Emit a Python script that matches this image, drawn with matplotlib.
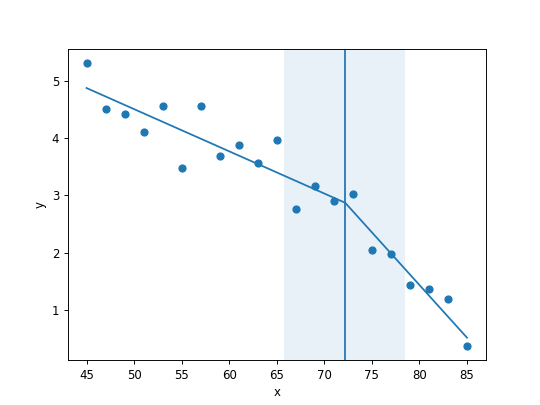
import matplotlib
matplotlib.use("Agg")
import matplotlib.pyplot as plt

# observed points
x_obs = [45, 47, 49, 51, 53, 55, 57, 59, 61, 63, 65,
         67, 69, 71, 73, 75, 77, 79, 81, 83, 85]
y_obs = [5.31, 4.50, 4.41, 4.11, 4.55, 3.47, 4.55, 3.68, 3.87, 3.57, 3.96,
         2.77, 3.16, 2.90, 3.02, 2.04, 1.97, 1.43, 1.37, 1.19, 0.37]

# piecewise fit
fit_x = [45, 72.2, 85]
fit_y = [4.87, 2.87, 0.52]

# breakpoint and its interval
bp = 72.2
bp_lo, bp_hi = 65.8, 78.5

fig, ax = plt.subplots(figsize=(6.4, 4.8), dpi=540 / 6.4)
ax.scatter(x_obs, y_obs)
ax.plot(fit_x, fit_y)
ax.axvline(bp)
ax.axvspan(bp_lo, bp_hi, alpha=0.1)
ax.set_xlabel("x")
ax.set_ylabel("y")
fig.savefig("out.png")
